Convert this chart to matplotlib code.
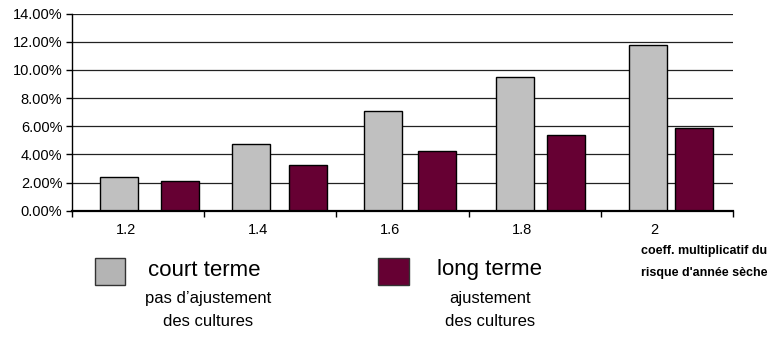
import numpy as np
import matplotlib
matplotlib.use('Agg')
import matplotlib.pyplot as plt
from matplotlib.patches import Rectangle
from matplotlib.ticker import FuncFormatter, FixedLocator

plt.rcParams['font.family'] = ['Liberation Sans', 'DejaVu Sans']

# Coefficient multiplicatif du risque d'année sèche
coeffs = ['1.2', '1.4', '1.6', '1.8', '2']

# Part de perte (fraction) selon l'horizon
court_terme = [0.0240, 0.0474, 0.0711, 0.0948, 0.1176]
long_terme = [0.0213, 0.0323, 0.0426, 0.0536, 0.0590]

y_ticks = [0.0, 0.02, 0.04, 0.06, 0.08, 0.10, 0.12, 0.14]

W, H = 769, 360
fig = plt.figure(figsize=(W / 100, H / 100), dpi=100)
ax = fig.add_axes([72 / W, 1 - 210.7 / H, 661 / W, 197 / H])

x = np.arange(len(coeffs))
width = 0.288
# the second series sits on a slightly tighter spacing than the categories
x_long = x + 0.315 - 0.027 * x

ax.bar(x - 0.146, court_terme, width, color='#C0C0C0', edgecolor='black', linewidth=1.0, zorder=3)
ax.bar(x_long, long_terme, width, color='#660033', edgecolor='black', linewidth=1.0, zorder=3)

ax.set_xlim(-0.5, len(coeffs) - 0.5)
ax.set_ylim(0, 0.14)

# y axis
ax.yaxis.set_major_locator(FixedLocator(y_ticks))
ax.yaxis.set_major_formatter(FuncFormatter(lambda v, p: '{:.2f}%'.format(v * 100)))
ax.tick_params(axis='y', direction='out', length=4, width=1, pad=3, labelsize=10.5)
for t in y_ticks[1:]:
    ax.axhline(t, color='#222222', linewidth=0.9, zorder=1)

# x axis: ticks between categories, labels a bit left of the centers
ax.set_xticks(np.arange(-0.5, len(coeffs)), labels=[''] * (len(coeffs) + 1))
ax.set_xticks(x - 0.095, labels=coeffs, minor=True)
ax.tick_params(axis='x', which='major', direction='out', length=4, width=1)
ax.tick_params(axis='x', which='minor', length=0, pad=9, labelsize=10.5)

for s in ['top', 'right']:
    ax.spines[s].set_visible(False)
ax.spines['left'].set_linewidth(1.0)
ax.spines['bottom'].set_linewidth(1.6)
ax.spines['bottom'].set_zorder(4)

# axis title under the last category
fig.text(704 / W, 1 - 251 / H, 'coeff. multiplicatif du', ha='center', va='center',
         fontsize=9, fontweight='bold')
fig.text(704 / W, 1 - 273 / H, "risque d'année sèche", ha='center', va='center',
         fontsize=9, fontweight='bold')

# legend
fig.add_artist(Rectangle((95 / W, 1 - 285 / H), 30 / W, 27 / H, transform=fig.transFigure,
                         facecolor='#B4B4B4', edgecolor='#333333', linewidth=1.0))
fig.text(148 / W, 1 - 270 / H, 'court terme', ha='left', va='center', fontsize=16)
fig.text(208 / W, 1 - 298 / H, "pas d\u2019ajustement", ha='center', va='center', fontsize=12)
fig.text(208 / W, 1 - 322 / H, 'des cultures', ha='center', va='center', fontsize=12)

fig.add_artist(Rectangle((378 / W, 1 - 285 / H), 31 / W, 27 / H, transform=fig.transFigure,
                         facecolor='#660033', edgecolor='#333333', linewidth=1.0))
fig.text(437 / W, 1 - 270 / H, 'long terme', ha='left', va='center', fontsize=16)
fig.text(490 / W, 1 - 298 / H, 'ajustement', ha='center', va='center', fontsize=12)
fig.text(490 / W, 1 - 322 / H, 'des cultures', ha='center', va='center', fontsize=12)

fig.savefig('out.png', dpi=100)
